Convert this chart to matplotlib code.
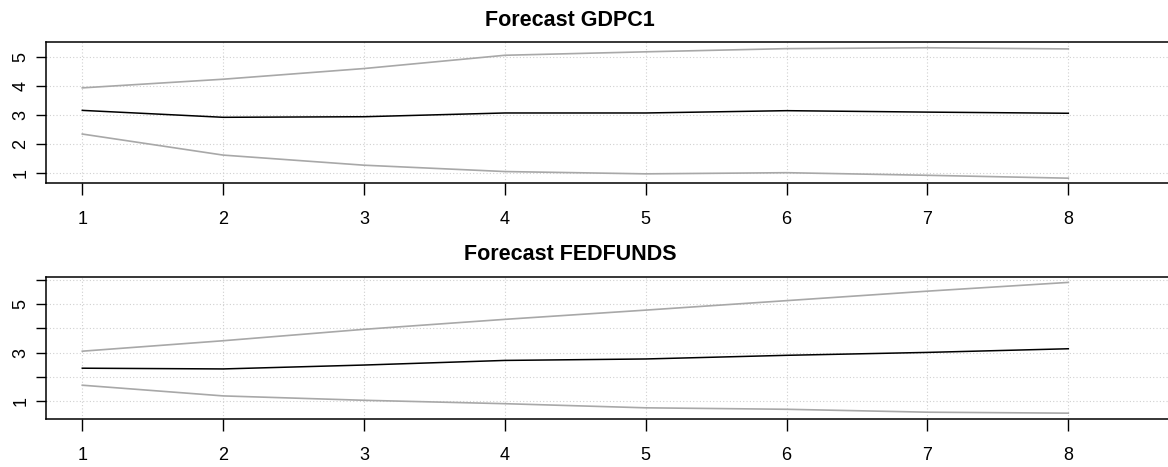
import matplotlib
matplotlib.use("Agg")
import matplotlib.pyplot as plt

plt.rcParams["font.family"] = ["Liberation Sans", "DejaVu Sans"]

steps = [1, 2, 3, 4, 5, 6, 7, 8]

gdp_fcst = [3.16, 2.92, 2.94, 3.07, 3.07, 3.15, 3.10, 3.06]
gdp_lower = [2.34, 1.61, 1.26, 1.04, 0.96, 1.00, 0.91, 0.81]
gdp_upper = [3.94, 4.24, 4.61, 5.07, 5.19, 5.30, 5.33, 5.29]

ff_fcst = [2.36, 2.33, 2.49, 2.68, 2.74, 2.89, 3.01, 3.16]
ff_lower = [1.66, 1.22, 1.04, 0.90, 0.73, 0.67, 0.55, 0.51]
ff_upper = [3.06, 3.49, 3.96, 4.37, 4.75, 5.14, 5.53, 5.89]

panels = [
    ("Forecast GDPC1", gdp_fcst, gdp_lower, gdp_upper,
     [1, 2, 3, 4, 5], ["1", "2", "3", "4", "5"], (0.643, 5.53), (42, 183), 20),
    ("Forecast FEDFUNDS", ff_fcst, ff_lower, ff_upper,
     [1, 2, 3, 4, 5, 6], ["1", "", "3", "", "5", ""], (0.27, 6.1), (277.3, 419), 255),
]

W, H = 1168, 467
fig = plt.figure(figsize=(W / 100, H / 100), dpi=100)

# plot region runs off the right edge, like the cropped original
x_left, x_right = 46, 1200
xmin = 1 - 36.3 / 140.86
xmax = xmin + (x_right - x_left) / 140.86

for title, fc, lo, up, yt, ytl, ylim, (top, bot), ty in panels:
    ax = fig.add_axes([x_left / W, 1 - bot / H, (x_right - x_left) / W, (bot - top) / H])
    for v in steps:
        ax.axvline(v, color="#d0d0d0", lw=0.8, ls=(0, (1, 2)), zorder=0)
    for v in yt:
        ax.axhline(v, color="#d0d0d0", lw=0.8, ls=(0, (1, 2)), zorder=0)
    ax.plot(steps, up, color="#a8a8a8", lw=1.2)
    ax.plot(steps, lo, color="#a8a8a8", lw=1.2)
    ax.plot(steps, fc, color="black", lw=1.1)
    ax.set_xlim(xmin, xmax)
    ax.set_ylim(*ylim)
    ax.set_xticks(steps)
    ax.set_yticks(yt)
    ax.set_yticklabels(ytl, rotation=90, va="center")
    ax.tick_params(axis="x", length=8.5, width=1.0, pad=12, labelsize=13)
    ax.tick_params(axis="y", length=7, width=1.0, pad=5, labelsize=13)
    ax.spines["right"].set_visible(False)
    for s in ("left", "top", "bottom"):
        ax.spines[s].set_linewidth(1.1)
    fig.text(570 / W, 1 - ty / H, title, ha="center", va="center",
             fontsize=15.5, fontweight="bold")

fig.savefig("out.png", dpi=100)
